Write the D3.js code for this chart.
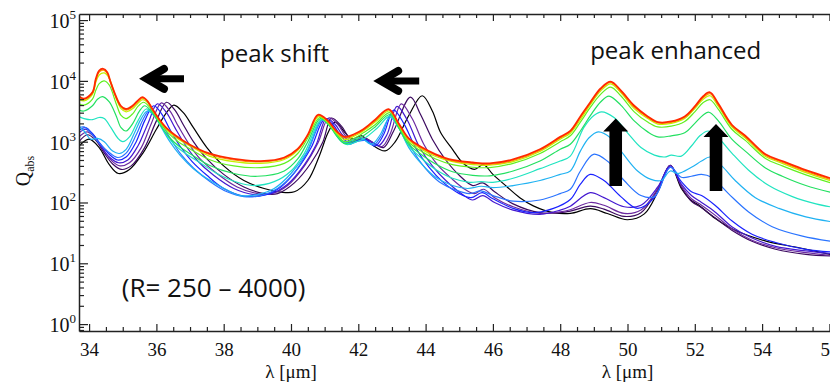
<!DOCTYPE html>
<html>
<head>
<meta charset="utf-8">
<script src="https://cdn.jsdelivr.net/npm/d3@7/dist/d3.min.js"></script>
<style>
  body { margin: 0; background: #fff; }
</style>
</head>
<body>
<svg width="830" height="383"></svg>
<script>
// spectra Q_abs(lambda), one array of [lambda um, Q] per R, R = 250 ... 4000
const rBlack = [[33.7,850],[34.0,1100],[34.3,800],[34.6,420],[34.87,300],[35.2,350],[35.6,650],[36.0,1600],[36.3,3000],[36.52,4000],[36.8,3000],[37.1,1700],[37.5,800],[38.0,400],[38.6,230],[39.2,170],[39.7,148],[40.1,150],[40.5,230],[40.85,600],[41.1,1400],[41.31,2100],[41.6,1420],[41.8,1100],[42.1,1250],[42.4,900],[42.8,705],[43.1,1000],[43.5,2700],[43.9,5700],[44.2,3200],[44.45,1400],[44.8,750],[45.1,450],[45.45,350],[45.72,420],[46.0,290],[46.4,185],[46.8,120],[47.2,88],[47.8,68],[48.3,66],[48.9,79],[49.4,66],[50.0,52],[50.5,65],[50.9,150],[51.27,410],[51.6,170],[51.86,112],[52.16,87],[52.6,55],[53.15,36],[54.14,23],[55.1,18],[56.3,13]];
const rDarkPurple = [[33.7,1000],[33.95,1300],[34.2,1050],[34.45,650],[34.7,430],[34.95,350],[35.25,400],[35.65,800],[36.0,2200],[36.3,4450],[36.55,3300],[36.8,1900],[37.1,1000],[37.5,520],[38.0,290],[38.6,180],[39.2,140],[39.6,140],[40.1,210],[40.6,450],[40.95,1000],[41.2,2450],[41.5,1800],[41.75,1150],[42.0,1080],[42.2,1150],[42.45,950],[42.75,800],[43.05,1500],[43.55,5400],[43.85,2800],[44.2,1100],[44.6,500],[45.0,280],[45.4,190],[45.7,210],[46.05,150],[46.6,95],[47.4,68],[48.0,68],[48.3,72],[48.89,87],[49.3,78],[49.9,59],[50.4,68],[50.9,165],[51.27,410],[51.6,180],[51.9,105],[52.2,82],[52.6,56],[53.1,35],[53.7,23],[54.4,17],[55.3,14],[56.3,13]];
const rPurple = [[33.7,1200],[33.95,1450],[34.2,1100],[34.45,700],[34.7,470],[34.92,400],[35.2,450],[35.55,800],[35.85,2000],[36.15,4350],[36.4,3200],[36.65,1800],[36.95,950],[37.3,520],[37.8,300],[38.4,180],[39.0,140],[39.4,138],[39.9,190],[40.4,400],[40.8,950],[41.12,2450],[41.4,1900],[41.65,1200],[41.9,1050],[42.15,1150],[42.4,1000],[42.7,830],[42.95,1350],[43.28,4200],[43.6,2400],[43.95,900],[44.35,420],[44.8,240],[45.2,160],[45.45,140],[45.72,165],[46.05,120],[46.6,85],[47.4,66],[48.0,70],[48.3,76],[48.89,100],[49.3,90],[49.9,66],[50.4,75],[50.9,170],[51.27,410],[51.6,190],[51.9,115],[52.2,90],[52.6,62],[53.1,37],[53.7,24],[54.4,18],[55.3,15],[56.3,13]];
const rIndigo = [[33.7,1400],[33.9,1600],[34.1,1350],[34.35,850],[34.6,560],[34.88,450],[35.15,500],[35.45,850],[35.75,2000],[36.03,4200],[36.3,3000],[36.55,1700],[36.85,900],[37.2,500],[37.7,280],[38.3,170],[38.9,135],[39.4,140],[39.9,200],[40.4,420],[40.75,900],[41.05,2400],[41.3,1950],[41.55,1250],[41.8,1000],[42.05,1080],[42.3,1050],[42.6,860],[42.85,1300],[43.15,3800],[43.45,2300],[43.8,850],[44.2,400],[44.6,230],[45.1,135],[45.4,110],[45.7,130],[46.05,100],[46.6,75],[47.4,64],[48.0,75],[48.3,87],[48.89,145],[49.3,120],[49.9,85],[50.4,90],[50.9,180],[51.27,400],[51.6,200],[51.9,130],[52.2,100],[52.6,70],[53.1,40],[53.7,26],[54.4,19],[55.3,16],[56.3,14]];
const rBlue = [[33.7,1550],[33.9,1700],[34.1,1350],[34.35,900],[34.6,620],[34.85,500],[35.1,560],[35.4,1000],[35.65,2200],[35.92,3900],[36.15,2900],[36.4,1600],[36.7,850],[37.05,480],[37.5,280],[38.0,170],[38.6,128],[39.2,132],[39.7,180],[40.2,360],[40.6,800],[41.0,2350],[41.25,1900],[41.5,1200],[41.75,950],[42.0,1050],[42.2,1080],[42.5,850],[42.75,1300],[43.05,3300],[43.35,2000],[43.7,800],[44.1,380],[44.5,220],[45.0,140],[45.35,120],[45.68,145],[46.0,115],[46.6,80],[47.2,68],[47.8,80],[48.3,112],[48.6,200],[48.89,290],[49.3,230],[49.8,125],[50.3,80],[50.8,120],[51.27,380],[51.6,220],[51.9,150],[52.2,130],[52.6,90],[53.1,50],[53.7,30],[54.4,22],[55.3,17],[56.3,15]];
const rAzure = [[33.7,1700],[33.85,1750],[34.05,1400],[34.3,950],[34.55,700],[34.85,550],[35.1,650],[35.4,1300],[35.6,2300],[35.8,3300],[36.0,2700],[36.2,1800],[36.45,1050],[36.75,600],[37.1,370],[37.6,220],[38.1,150],[38.6,125],[39.1,130],[39.6,170],[40.1,310],[40.5,700],[40.95,2300],[41.2,1850],[41.45,1150],[41.7,900],[41.95,1000],[42.2,1050],[42.45,880],[42.7,1300],[42.97,2800],[43.25,1800],[43.6,750],[44.0,360],[44.4,220],[44.9,160],[45.3,140],[45.65,155],[46.0,130],[46.6,105],[47.4,110],[48.0,140],[48.3,165],[48.6,330],[48.99,620],[49.4,480],[49.9,230],[50.4,130],[50.8,125],[51.27,380],[51.6,260],[51.9,270],[52.2,290],[52.5,260],[53.0,140],[53.6,70],[54.3,40],[55.2,28],[56.3,22]];
const rLightBlue = [[33.7,1800],[33.85,1500],[34.05,1100],[34.25,1130],[34.45,1000],[34.7,700],[34.9,640],[35.1,750],[35.35,1400],[35.55,2400],[35.73,3200],[35.95,2600],[36.15,1700],[36.4,1000],[36.7,600],[37.1,360],[37.6,230],[38.1,160],[38.5,130],[39.0,135],[39.5,170],[40.0,300],[40.45,650],[40.92,2300],[41.15,1900],[41.55,970],[42.05,1170],[42.4,910],[42.65,1300],[42.94,2500],[43.2,1700],[43.5,800],[43.9,420],[44.3,260],[44.8,190],[45.25,170],[45.65,185],[46.0,175],[46.6,190],[47.4,230],[48.0,290],[48.3,330],[48.6,700],[48.85,1150],[49.13,1450],[49.5,1150],[49.9,600],[50.3,330],[50.7,240],[51.0,230],[51.27,330],[51.5,300],[51.9,380],[52.2,480],[52.45,560],[52.8,400],[53.2,230],[53.8,120],[54.5,80],[55.3,58],[56.3,46]];
const rAqua = [[33.7,2600],[33.85,2400],[34.1,2300],[34.3,2500],[34.45,2400],[34.65,1700],[34.85,1150],[35.0,1000],[35.2,1200],[35.45,2200],[35.7,3450],[35.9,2900],[36.1,2000],[36.3,1300],[36.55,880],[36.9,620],[37.3,450],[37.8,300],[38.4,215],[38.9,190],[39.5,220],[40.0,330],[40.4,650],[40.9,2300],[41.15,1800],[41.4,1200],[41.65,900],[41.95,1000],[42.2,1150],[42.55,1650],[42.95,2650],[43.2,1700],[43.5,850],[43.9,520],[44.3,350],[44.8,250],[45.3,215],[45.65,220],[46.0,215],[46.6,250],[47.4,360],[48.0,480],[48.3,580],[48.7,1700],[49.0,2700],[49.23,3100],[49.6,2500],[50.0,1400],[50.4,800],[50.8,600],[51.1,560],[51.3,600],[51.6,580],[51.9,850],[52.15,1250],[52.4,1500],[52.7,1150],[53.1,650],[53.6,340],[54.2,190],[54.9,125],[55.6,95],[56.3,80]];
const rGreen = [[33.7,3300],[33.85,3200],[34.1,3900],[34.25,5000],[34.4,5500],[34.6,4500],[34.8,2700],[34.95,1700],[35.1,1500],[35.3,2000],[35.5,3200],[35.65,3900],[35.82,3300],[36.0,2400],[36.2,1600],[36.4,1150],[36.7,820],[37.05,610],[37.57,410],[38.3,300],[39.0,270],[39.8,330],[40.2,520],[40.5,1000],[40.87,2400],[41.12,1900],[41.35,1250],[41.6,930],[41.9,1050],[42.15,1250],[42.5,1750],[42.94,2800],[43.2,1700],[43.5,900],[43.9,600],[44.3,430],[44.8,320],[45.4,280],[45.9,275],[46.6,330],[47.4,480],[48.0,750],[48.3,910],[48.6,1500],[48.9,2700],[49.2,4500],[49.45,5600],[49.8,4000],[50.2,2200],[50.6,1450],[50.9,1200],[51.3,1250],[51.7,1400],[52.0,2000],[52.25,2750],[52.42,3050],[52.7,2200],[53.1,1100],[53.5,700],[54.1,370],[54.6,270],[55.3,190],[56.3,135]];
const rLime = [[33.7,4200],[33.85,4000],[34.1,5000],[34.2,7000],[34.3,9000],[34.45,10000],[34.6,8500],[34.8,4300],[34.95,2700],[35.1,2400],[35.3,2900],[35.45,3800],[35.62,4450],[35.78,3800],[35.95,2800],[36.15,1900],[36.35,1400],[36.65,1000],[37.0,760],[37.57,510],[38.3,400],[39.1,375],[39.8,440],[40.2,640],[40.5,1150],[40.85,2500],[41.1,2000],[41.35,1350],[41.6,1000],[41.9,1150],[42.15,1400],[42.5,1900],[42.93,3000],[43.2,1800],[43.5,980],[43.9,680],[44.3,520],[44.8,420],[45.4,380],[45.9,375],[46.6,440],[47.4,640],[48.0,1000],[48.3,1250],[48.6,2100],[48.9,3700],[49.2,6000],[49.5,7900],[49.8,5700],[50.2,3100],[50.6,2100],[50.9,1750],[51.3,1800],[51.7,2150],[52.0,3100],[52.25,4400],[52.45,4900],[52.7,3400],[53.1,1600],[53.5,1050],[54.1,530],[54.6,400],[55.3,285],[56.3,190]];
const rYellow = [[33.7,5000],[33.85,4700],[34.1,6000],[34.2,9500],[34.3,12500],[34.45,13500],[34.6,11000],[34.8,5200],[34.95,3500],[35.1,3100],[35.3,3500],[35.45,4300],[35.6,4900],[35.75,4300],[35.9,3200],[36.1,2200],[36.3,1600],[36.6,1150],[37.0,850],[37.57,580],[38.3,470],[39.1,440],[39.8,510],[40.2,720],[40.5,1250],[40.82,2600],[41.1,2100],[41.35,1400],[41.6,1080],[41.9,1250],[42.15,1500],[42.5,2100],[42.92,3200],[43.2,1900],[43.5,1050],[43.9,740],[44.3,570],[44.8,470],[45.4,420],[45.9,410],[46.6,470],[47.4,690],[48.0,1100],[48.3,1380],[48.6,2300],[48.9,4100],[49.2,6800],[49.5,8900],[49.8,6400],[50.2,3500],[50.6,2400],[50.9,1950],[51.3,2000],[51.7,2400],[52.0,3500],[52.25,5000],[52.45,5700],[52.7,3800],[53.1,1750],[53.5,1150],[54.1,570],[54.6,440],[55.3,310],[56.3,205]];
const rOrange = [[33.7,5400],[33.85,4950],[34.1,6300],[34.2,10300],[34.3,14000],[34.43,15000],[34.55,13000],[34.65,9000],[34.8,5400],[34.95,3750],[35.1,3300],[35.3,3750],[35.45,4550],[35.6,5200],[35.75,4500],[35.9,3300],[36.1,2250],[36.3,1650],[36.6,1200],[37.0,880],[37.57,615],[38.3,500],[39.1,465],[39.8,530],[40.2,740],[40.5,1280],[40.81,2700],[41.1,2150],[41.35,1450],[41.6,1150],[41.9,1300],[42.15,1550],[42.5,2200],[42.91,3350],[43.2,1950],[43.5,1100],[43.9,770],[44.3,600],[44.8,485],[45.4,440],[45.9,425],[46.6,490],[47.4,720],[48.0,1150],[48.3,1450],[48.6,2500],[48.9,4300],[49.2,7200],[49.5,9400],[49.8,6700],[50.2,3700],[50.6,2500],[50.9,2030],[51.3,2080],[51.7,2500],[52.0,3650],[52.25,5300],[52.45,6150],[52.7,4000],[53.1,1830],[53.5,1200],[54.1,600],[54.6,460],[55.3,325],[56.3,215]];
const rRed = [[33.7,5600],[33.85,5100],[34.1,6500],[34.2,10800],[34.3,14800],[34.42,15800],[34.54,13900],[34.64,9500],[34.79,5700],[34.94,3900],[35.09,3450],[35.29,3900],[35.44,4700],[35.58,5400],[35.73,4700],[35.88,3450],[36.08,2350],[36.28,1720],[36.58,1250],[36.97,910],[37.57,640],[38.3,520],[39.1,480],[39.8,550],[40.2,760],[40.5,1300],[40.8,2770],[41.1,2200],[41.35,1500],[41.6,1200],[41.9,1350],[42.15,1600],[42.5,2300],[42.9,3440],[43.2,2000],[43.5,1130],[43.9,800],[44.3,620],[44.8,500],[45.4,455],[45.9,440],[46.6,510],[47.4,750],[48.0,1200],[48.3,1510],[48.6,2600],[48.9,4500],[49.2,7500],[49.5,9750],[49.8,7000],[50.2,3900],[50.6,2600],[50.9,2100],[51.3,2150],[51.7,2600],[52.0,3800],[52.25,5600],[52.45,6500],[52.7,4200],[53.1,1900],[53.5,1250],[54.1,620],[54.6,480],[55.3,340],[56.3,225]];

const curveColors = ['#000000', '#3c0a60', '#6c2aa0', '#4418d0', '#1a22ff', '#2a74ff', '#20b2f2', '#20e4c0', '#22e060', '#60f020', '#c4f000', '#ff9a00', '#ff2a00'];
const xMajorTicks = [34, 36, 38, 40, 42, 44, 46, 48, 50, 52, 54, 56];
const yMajorTicks = [1, 10, 100, 1000, 10000, 100000];

const curves = [rBlack, rDarkPurple, rPurple, rIndigo, rBlue, rAzure, rLightBlue, rAqua, rGreen, rLime, rYellow, rOrange, rRed]
    .map((values, i) => ({values: values, color: curveColors[i]}));

const plotLeft = 79, plotRight = 839.5, plotTop = 14, plotBottom = 331;
const svg = d3.select('svg');

const xScale = d3.scaleLinear()
    .domain([33.7, 56.3])
    .range([plotLeft, plotRight]);
const yScale = d3.scaleLog()
    .domain([0.77, 125900])
    .range([plotBottom, plotTop]);

svg.append('clipPath')
    .attr('id', 'plotArea')
    .append('rect')
    .attr('x', plotLeft)
    .attr('y', plotTop)
    .attr('width', plotRight - plotLeft)
    .attr('height', plotBottom - plotTop);

const line = d3.line()
    .x(d => xScale(d[0]))
    .y(d => yScale(d[1]))
    .curve(d3.curveCatmullRom.alpha(0.5));

svg.append('g')
    .attr('clip-path', 'url(#plotArea)')
    .selectAll('path.spectrum')
    .data(curves)
    .enter()
    .append('path')
    .attr('class', 'spectrum')
    .attr('d', d => line(d.values))
    .style('fill', 'none')
    .style('stroke', d => d.color)
    .style('stroke-width', (d, i) => i === curves.length - 1 ? '1.8px' : '1.2px');

// axes, ticks pointing into the plot
const xMinorTicks = d3.range(34.5, 56.5, 0.5).filter(v => v % 2 !== 0);
const yMinorTicks = [0.8, 0.9];
yMajorTicks.slice(0, -1).forEach(p => d3.range(2, 10).forEach(m => yMinorTicks.push(p * m)));

const serif = '"Liberation Serif", "Times New Roman", serif';

function styleAxis(g) {
  g.select('.domain').style('stroke', '#222').style('stroke-width', '1.5px');
  g.selectAll('.tick line').style('stroke', '#222').style('stroke-width', '1.2px');
}

const xAxis = d3.axisBottom(xScale)
    .tickValues(xMajorTicks)
    .tickSizeInner(-7)
    .tickSizeOuter(0)
    .tickPadding(12)
    .tickFormat(d3.format('d'));
svg.append('g')
    .attr('transform', `translate(0, ${plotBottom})`)
    .call(xAxis)
    .call(styleAxis)
    .call(g => g.selectAll('text').style('font-family', serif).style('font-size', '19px').style('fill', '#111'));
svg.append('g')
    .attr('transform', `translate(0, ${plotBottom})`)
    .call(d3.axisBottom(xScale).tickValues(xMinorTicks).tickSize(-4).tickFormat(''))
    .call(styleAxis)
    .call(g => g.select('.domain').remove());

svg.append('g')
    .attr('transform', `translate(0, ${plotTop})`)
    .call(d3.axisTop(xScale).tickValues(xMajorTicks).tickSizeInner(-7).tickSizeOuter(0).tickFormat(''))
    .call(styleAxis);
svg.append('g')
    .attr('transform', `translate(0, ${plotTop})`)
    .call(d3.axisTop(xScale).tickValues(xMinorTicks).tickSize(-4).tickFormat(''))
    .call(styleAxis)
    .call(g => g.select('.domain').remove());

svg.append('g')
    .attr('transform', `translate(${plotLeft}, 0)`)
    .call(d3.axisLeft(yScale).tickValues(yMajorTicks).tickSizeInner(-9).tickSizeOuter(0).tickFormat(''))
    .call(styleAxis);
svg.append('g')
    .attr('transform', `translate(${plotLeft}, 0)`)
    .call(d3.axisLeft(yScale).tickValues(yMinorTicks).tickSize(-5).tickFormat(''))
    .call(styleAxis)
    .call(g => g.select('.domain').remove());

// y tick labels as 10^n
const yLabels = svg.append('g')
    .selectAll('text')
    .data(yMajorTicks)
    .enter()
    .append('text')
    .attr('x', 76)
    .attr('y', d => yScale(d) + 8)
    .attr('text-anchor', 'end')
    .style('font-family', serif)
    .style('font-size', '20px')
    .style('fill', '#111');
yLabels.append('tspan').text('10');
yLabels.append('tspan')
    .attr('dy', -9)
    .style('font-size', '13px')
    .text(d => Math.round(Math.log10(d)));

// axis titles
svg.append('text')
    .attr('transform', 'translate(30, 171) rotate(-90)')
    .attr('text-anchor', 'middle')
    .style('font-family', serif)
    .style('font-size', '20px')
    .style('fill', '#111')
    .call(t => t.append('tspan').text('Q'))
    .call(t => t.append('tspan').attr('dy', 4).style('font-size', '12px').text('abs'));

svg.selectAll('text.xtitle')
    .data([40, 50])
    .enter()
    .append('text')
    .attr('class', 'xtitle')
    .attr('x', d => xScale(d))
    .attr('y', 378)
    .attr('text-anchor', 'middle')
    .style('font-family', serif)
    .style('font-size', '19px')
    .style('fill', '#111')
    .text('λ [μm]');

// annotations
const sans = '"Open Sans", "Noto Sans", sans-serif';
const notes = [
  {text: 'peak shift', x: 37.89, y: 20600, size: 24},
  {text: 'peak enhanced', x: 48.89, y: 23000, size: 24},
  {text: '(R= 250 \u2013 4000)', x: 34.97, y: 2.75, size: 26}
];
svg.selectAll('text.note')
    .data(notes)
    .enter()
    .append('text')
    .attr('class', 'note')
    .attr('x', d => xScale(d.x))
    .attr('y', d => yScale(d.y))
    .style('font-family', sans)
    .style('font-size', d => d.size + 'px')
    .style('fill', '#111')
    .text(d => d.text);

const leftArrows = [{x0: 35.66, x1: 36.82, y: 10800}, {x0: 42.62, x1: 43.81, y: 10000}];
leftArrows.forEach(a => {
  const tx = xScale(a.x0), ex = xScale(a.x1), cy = yScale(a.y);
  svg.append('line')
      .attr('x1', tx + 5).attr('x2', ex)
      .attr('y1', cy).attr('y2', cy)
      .style('stroke', '#000')
      .style('stroke-width', '7px');
  svg.append('path')
      .attr('d', `M${tx + 19},${cy - 10}L${tx + 2},${cy}L${tx + 19},${cy + 10}`)
      .style('fill', 'none')
      .style('stroke', '#000')
      .style('stroke-width', '8px')
      .style('stroke-linecap', 'round')
      .style('stroke-linejoin', 'miter');
});

const upArrows = [{x: 49.65, y0: 186, y1: 2400}, {x: 52.63, y0: 154, y1: 1950}];
upArrows.forEach(a => {
  const cx = xScale(a.x), yb = yScale(a.y0), yt = yScale(a.y1);
  const hw = 12.5, sw = 6.3, hl = 13;
  svg.append('path')
      .attr('d', `M${cx},${yt}L${cx + hw},${yt + hl}L${cx + sw},${yt + hl}L${cx + sw},${yb}` +
                 `L${cx - sw},${yb}L${cx - sw},${yt + hl}L${cx - hw},${yt + hl}Z`)
      .style('fill', '#000');
});
</script>
</body>
</html>
